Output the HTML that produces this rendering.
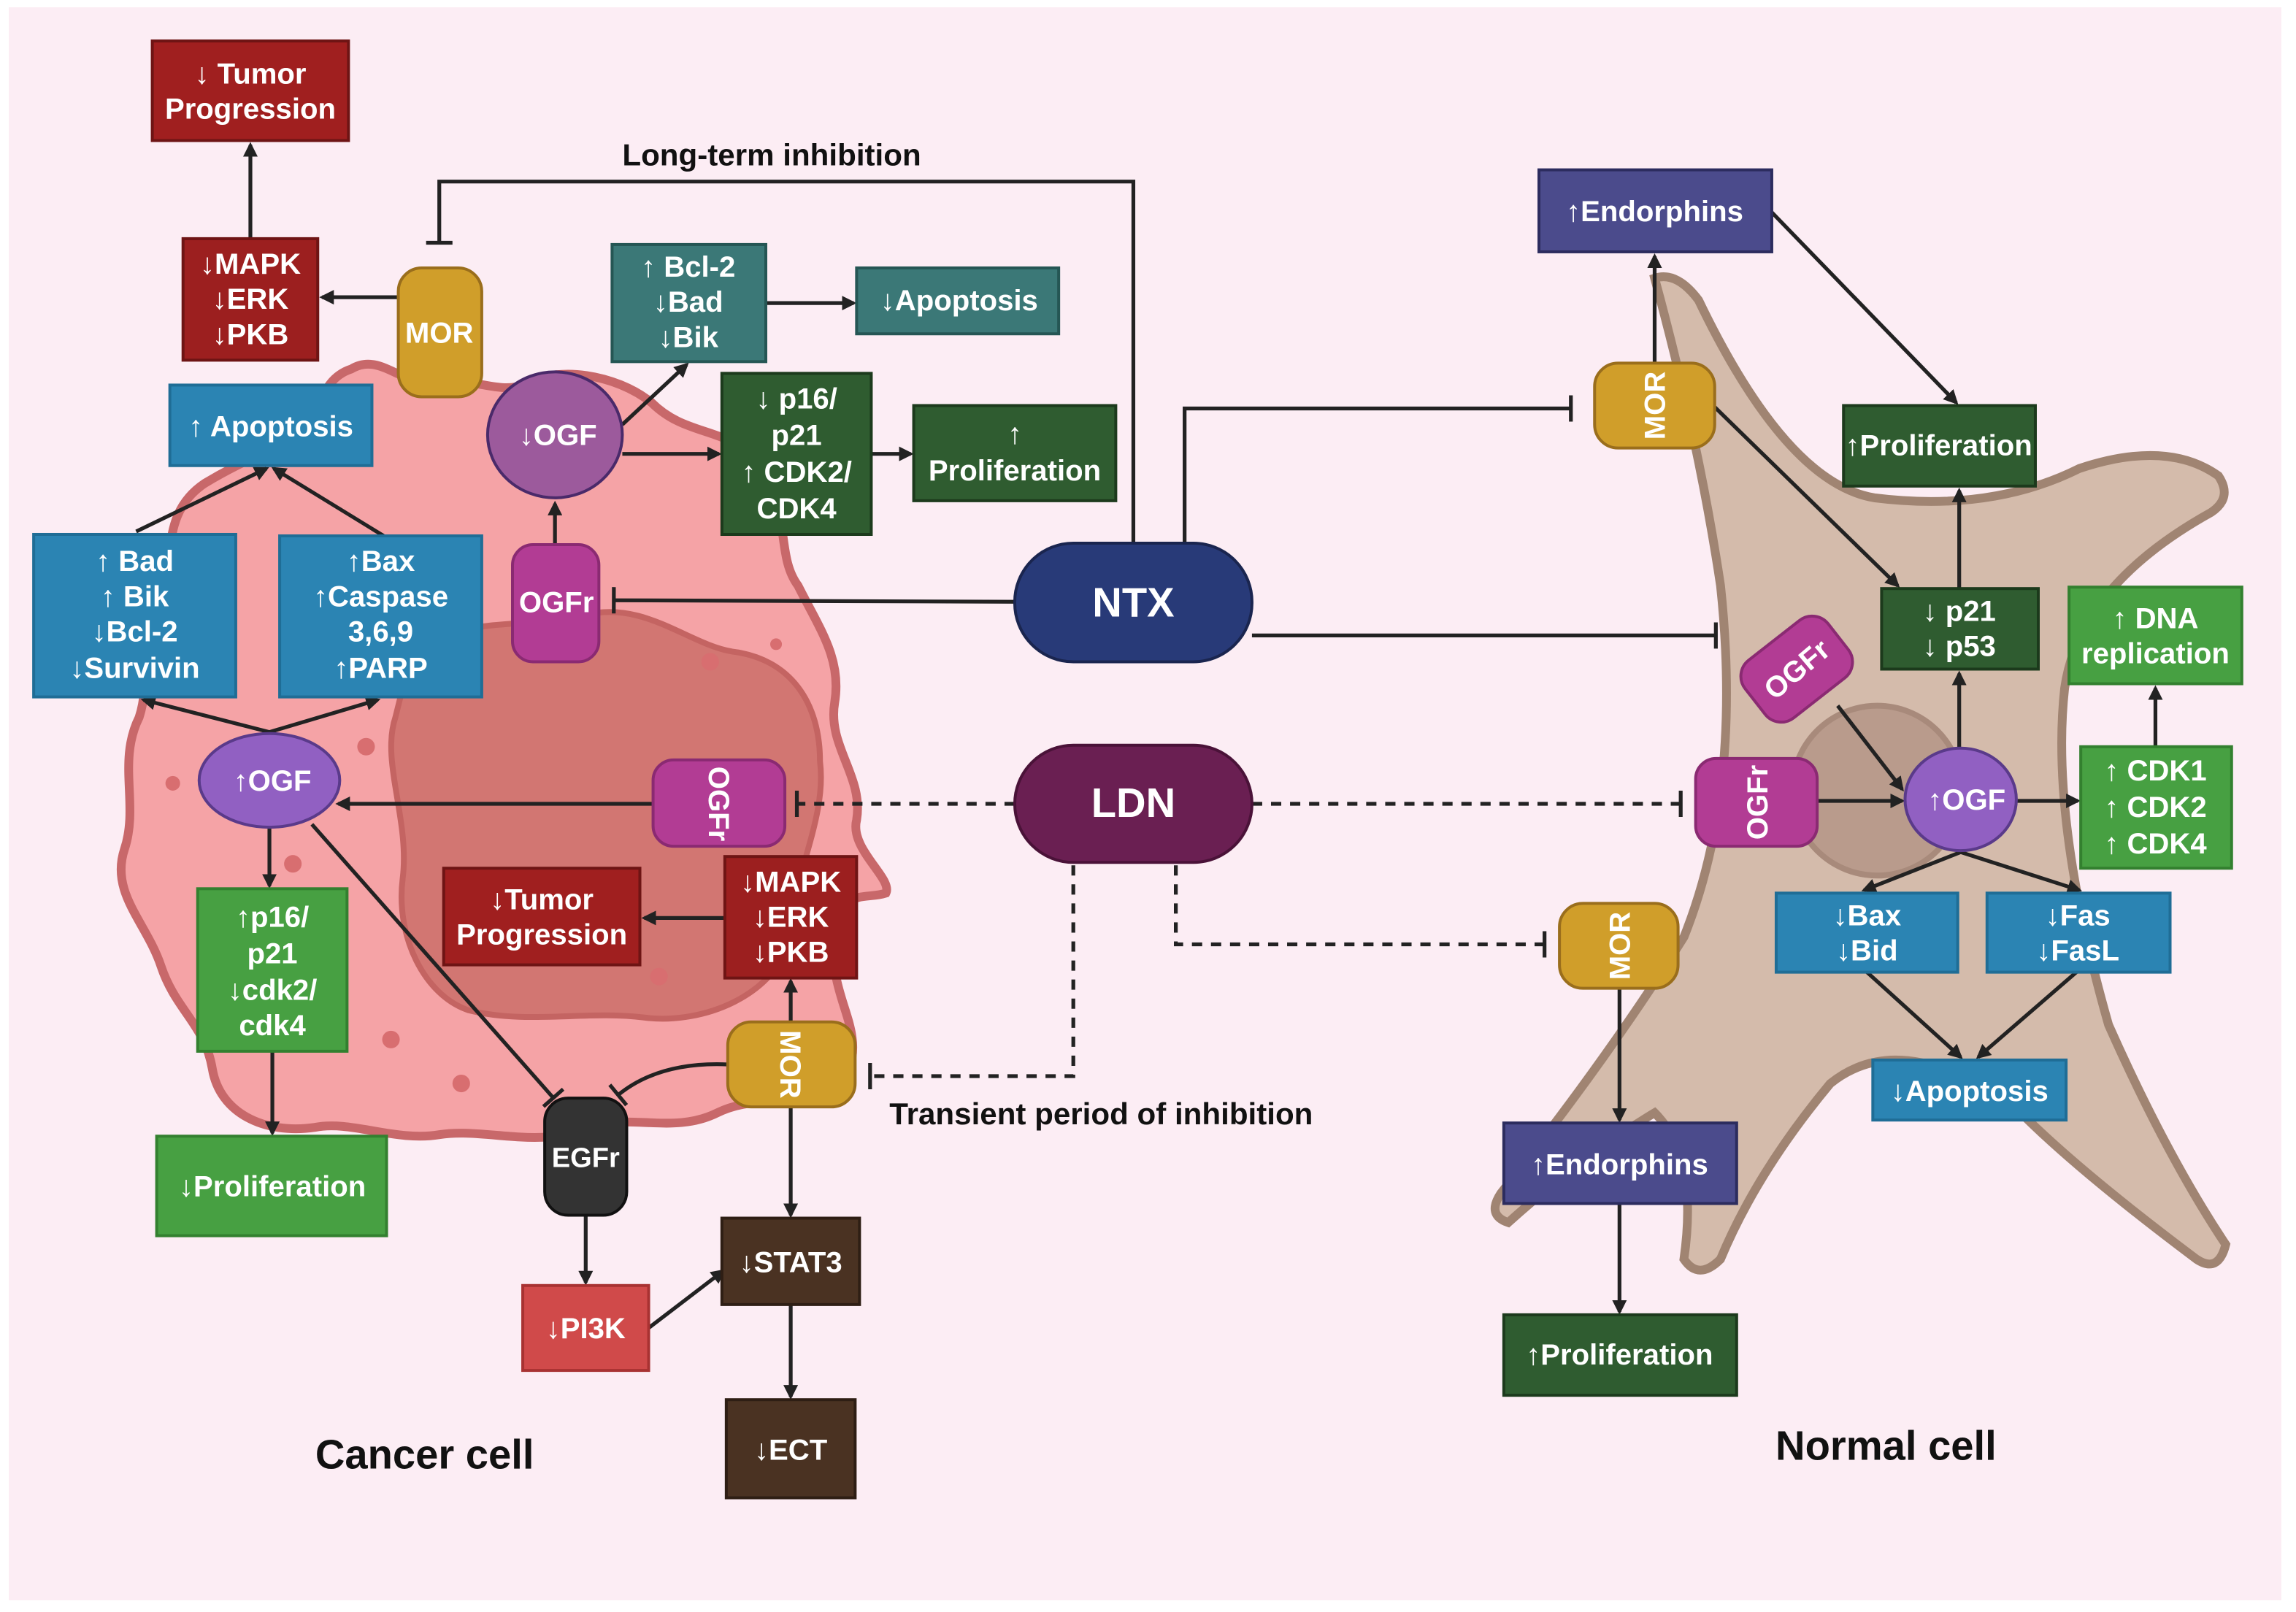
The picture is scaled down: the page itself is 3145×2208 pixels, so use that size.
<!DOCTYPE html>
<html><head><meta charset="utf-8"><style>
html,body{margin:0;padding:0;background:#fff;}
svg{display:block;}
text{font-family:"Liberation Sans",sans-serif;font-weight:bold;}
.w{fill:#fff;font-size:20px;text-anchor:middle;}
.k{fill:#111;}
.ln{stroke:#222;stroke-width:2.6;fill:none;}
.ds{stroke:#222;stroke-width:2.6;fill:none;stroke-dasharray:7 6;}
</style></head><body>
<svg width="3145" height="2208" viewBox="0 0 1568 1101" preserveAspectRatio="none" xmlns="http://www.w3.org/2000/svg">
<defs>
<marker id="a" markerWidth="10" markerHeight="10" refX="8" refY="5" orient="auto" markerUnits="userSpaceOnUse"><path d="M0,0 L10,5 L0,10 Z" fill="#222"/></marker>
<marker id="t" markerWidth="4" markerHeight="18" refX="2" refY="9" orient="auto" markerUnits="userSpaceOnUse"><rect x="0.5" y="0" width="2.6" height="18" fill="#222"/></marker>
</defs>
<rect x="0" y="0" width="1568" height="1101" fill="#ffffff"/>
<rect x="6" y="5" width="1552" height="1088" fill="#fcedf4"/>

<!-- cancer cell -->
<path d="M240,252 C260,240 275,265 300,262 C330,258 340,270 360,262 C380,250 420,255 445,275 C470,300 500,290 520,320 C540,350 530,380 545,400 C560,430 575,450 570,480 C565,510 590,530 585,560 C580,580 610,600 605,610 C590,615 575,605 570,640 C565,680 590,700 580,730 C560,760 520,745 490,760 C460,775 430,760 400,770 C370,785 330,770 300,775 C270,780 240,765 215,770 C180,775 150,760 145,730 C140,700 120,690 110,660 C100,630 75,610 85,580 C95,550 80,520 95,490 C105,460 90,430 110,400 C120,380 110,350 140,330 C165,315 180,310 200,300 C220,290 215,260 240,252 Z" fill="#f5a3a6" stroke="#c8686a" stroke-width="6"/>
<path d="M280,450 C300,420 360,430 400,420 C440,410 470,440 500,445 C540,450 560,480 560,520 C565,560 540,600 540,640 C530,680 480,700 440,695 C400,690 360,700 320,690 C290,680 270,640 275,600 C280,560 260,520 270,490 Z" fill="#d27672" stroke="#c46462" stroke-width="4"/>
<g fill="#d86e70"><circle cx="485" cy="452" r="6"/><circle cx="250" cy="510" r="6"/><circle cx="200" cy="590" r="6"/><circle cx="118" cy="535" r="5"/><circle cx="267" cy="710" r="6"/><circle cx="315" cy="740" r="6"/><circle cx="450" cy="667" r="6"/><circle cx="530" cy="440" r="4"/></g>

<!-- normal cell -->
<path d="M1130,190 Q1145,185 1160,205 Q1220,330 1280,340 Q1360,350 1420,320 Q1480,300 1515,325 Q1525,340 1510,350 Q1420,400 1410,470 Q1400,560 1440,700 Q1480,790 1520,850 Q1515,870 1500,860 Q1420,800 1380,760 Q1300,700 1250,740 Q1200,800 1175,860 Q1160,875 1150,860 Q1160,790 1130,760 Q1080,790 1030,835 Q1015,830 1025,815 Q1100,720 1150,640 Q1190,540 1175,400 Q1160,300 1130,190 Z" fill="#d4bbab" stroke="#a08472" stroke-width="6"/>
<circle cx="1282" cy="540" r="58" fill="#b99b8c" stroke="#a88a7b" stroke-width="4"/>

<!-- connectors -->
<g class="ln">
<line x1="171" y1="163" x2="171" y2="99" marker-end="url(#a)"/>
<line x1="272" y1="203" x2="220" y2="203" marker-end="url(#a)"/>
<polyline points="774,371 774,124 300,124 300,166" marker-end="url(#t)"/>
<line x1="425" y1="290" x2="469" y2="249" marker-end="url(#a)"/>
<line x1="425" y1="310" x2="491" y2="310" marker-end="url(#a)"/>
<line x1="523" y1="207" x2="583" y2="207" marker-end="url(#a)"/>
<line x1="595" y1="310" x2="622" y2="310" marker-end="url(#a)"/>
<line x1="379" y1="372" x2="379" y2="344" marker-end="url(#a)"/>
<line x1="693" y1="411" x2="419" y2="410" marker-end="url(#t)"/>
<polyline points="809,371 809,279 1073,279" marker-end="url(#t)"/>
<line x1="855" y1="434" x2="1172" y2="434" marker-end="url(#t)"/>
<line x1="93" y1="363" x2="182" y2="320" marker-end="url(#a)"/>
<line x1="262" y1="366" x2="187" y2="320" marker-end="url(#a)"/>
<line x1="184" y1="500" x2="98" y2="478" marker-end="url(#a)"/>
<line x1="184" y1="500" x2="258" y2="478" marker-end="url(#a)"/>
<line x1="446" y1="549" x2="231" y2="549" marker-end="url(#a)"/>
<line x1="184" y1="565" x2="184" y2="605" marker-end="url(#a)"/>
<line x1="186" y1="718" x2="186" y2="774" marker-end="url(#a)"/>
<line x1="213" y1="563" x2="378" y2="750" marker-end="url(#t)"/>
<path d="M497,727 Q450,725 422,748" marker-end="url(#t)"/>
<line x1="495" y1="627" x2="440" y2="627" marker-end="url(#a)"/>
<line x1="540" y1="698" x2="540" y2="670" marker-end="url(#a)"/>
<line x1="540" y1="756" x2="540" y2="830" marker-end="url(#a)"/>
<line x1="400" y1="830" x2="400" y2="876" marker-end="url(#a)"/>
<line x1="443" y1="907" x2="494" y2="868" marker-end="url(#a)"/>
<line x1="540" y1="891" x2="540" y2="954" marker-end="url(#a)"/>
<line x1="1130" y1="248" x2="1130" y2="175" marker-end="url(#a)"/>
<line x1="1210" y1="145" x2="1336" y2="275" marker-end="url(#a)"/>
<line x1="1171" y1="278" x2="1296" y2="400" marker-end="url(#a)"/>
<line x1="1338" y1="402" x2="1338" y2="335" marker-end="url(#a)"/>
<line x1="1338" y1="511" x2="1338" y2="460" marker-end="url(#a)"/>
<line x1="1255" y1="482" x2="1299" y2="539" marker-end="url(#a)"/>
<line x1="1241" y1="547" x2="1299" y2="547" marker-end="url(#a)"/>
<line x1="1377" y1="547" x2="1419" y2="547" marker-end="url(#a)"/>
<line x1="1472" y1="510" x2="1472" y2="470" marker-end="url(#a)"/>
<line x1="1339" y1="582" x2="1273" y2="608" marker-end="url(#a)"/>
<line x1="1339" y1="582" x2="1420" y2="608" marker-end="url(#a)"/>
<line x1="1275" y1="664" x2="1339" y2="722" marker-end="url(#a)"/>
<line x1="1418" y1="664" x2="1351" y2="722" marker-end="url(#a)"/>
<line x1="1106" y1="675" x2="1106" y2="765" marker-end="url(#a)"/>
<line x1="1106" y1="822" x2="1106" y2="896" marker-end="url(#a)"/>
</g>
<g class="ds">
<line x1="693" y1="549" x2="544" y2="549" marker-end="url(#t)"/>
<line x1="855" y1="549" x2="1148" y2="549" marker-end="url(#t)"/>
<polyline points="803,591 803,645 1055,645" marker-end="url(#t)"/>
<polyline points="733,591 733,735 594,735" marker-end="url(#t)"/>
</g>

<!-- boxes left -->
<g stroke-width="2">
<rect x="104" y="28" width="134" height="68" fill="#a01f1f" stroke="#6e1414"/>
<rect x="125" y="163" width="92" height="83" fill="#9c1f1f" stroke="#6e1414"/>
<rect x="272" y="183" width="57" height="88" rx="16" fill="#d09e2a" stroke="#9a6e1c"/>
<rect x="116" y="263" width="138" height="55" fill="#2b84b3" stroke="#1f6d96"/>
<rect x="23" y="365" width="138" height="111" fill="#2b84b3" stroke="#1f6d96"/>
<rect x="191" y="366" width="138" height="110" fill="#2b84b3" stroke="#1f6d96"/>
<ellipse cx="379" cy="297" rx="46" ry="43" fill="#9c5a9c" stroke="#4a2a6a"/>
<rect x="350" y="372" width="59" height="80" rx="14" fill="#b23c94" stroke="#8a2a72"/>
<rect x="418" y="167" width="105" height="80" fill="#3b7877" stroke="#255654"/>
<rect x="585" y="183" width="138" height="45" fill="#3b7877" stroke="#255654"/>
<rect x="493" y="255" width="102" height="110" fill="#2f5c30" stroke="#1c3a1c"/>
<rect x="624" y="277" width="138" height="65" fill="#2f5c30" stroke="#1c3a1c"/>
<rect x="693" y="371" width="162" height="81" rx="40" fill="#283a78" stroke="#1a254f"/>
<rect x="693" y="509" width="162" height="80" rx="40" fill="#6a1f52" stroke="#4a1238"/>
<ellipse cx="184" cy="533" rx="48" ry="32" fill="#9160c2" stroke="#5a3a8a"/>
<rect x="446" y="519" width="90" height="59" rx="14" fill="#b23c94" stroke="#8a2a72"/>
<rect x="303" y="593" width="134" height="66" fill="#a01f1f" stroke="#6e1414"/>
<rect x="495" y="585" width="90" height="83" fill="#9c1f1f" stroke="#6e1414"/>
<rect x="135" y="607" width="102" height="111" fill="#47a042" stroke="#33802f"/>
<rect x="107" y="776" width="157" height="68" fill="#47a042" stroke="#33802f"/>
<rect x="497" y="698" width="87" height="58" rx="16" fill="#d09e2a" stroke="#9a6e1c"/>
<rect x="372" y="750" width="56" height="80" rx="16" fill="#333" stroke="#111"/>
<rect x="493" y="832" width="94" height="59" fill="#4a3222" stroke="#2e1e14"/>
<rect x="357" y="878" width="86" height="58" fill="#d04a4a" stroke="#a83232"/>
<rect x="496" y="956" width="88" height="67" fill="#4a3222" stroke="#2e1e14"/>
<!-- right -->
<rect x="1051" y="116" width="159" height="56" fill="#4b4b8c" stroke="#2c2c5e"/>
<rect x="1089" y="248" width="82" height="58" rx="16" fill="#d09e2a" stroke="#9a6e1c"/>
<rect x="1259" y="277" width="131" height="55" fill="#2f5c30" stroke="#1c3a1c"/>
<rect x="1285" y="402" width="107" height="55" fill="#2f5c30" stroke="#1c3a1c"/>
<rect x="1413" y="401" width="118" height="66" fill="#47a042" stroke="#33802f"/>
<rect x="1191" y="432" width="72" height="50" rx="14" fill="#b23c94" stroke="#8a2a72" transform="rotate(-38 1227 457)"/>
<rect x="1158" y="518" width="83" height="60" rx="14" fill="#b23c94" stroke="#8a2a72"/>
<ellipse cx="1339" cy="546" rx="38" ry="35" fill="#9160c2" stroke="#5a3a8a"/>
<rect x="1421" y="510" width="103" height="83" fill="#47a042" stroke="#33802f"/>
<rect x="1213" y="610" width="124" height="54" fill="#2b84b3" stroke="#1f6d96"/>
<rect x="1357" y="610" width="125" height="54" fill="#2b84b3" stroke="#1f6d96"/>
<rect x="1279" y="724" width="132" height="41" fill="#2b84b3" stroke="#1f6d96"/>
<rect x="1065" y="617" width="81" height="58" rx="16" fill="#d09e2a" stroke="#9a6e1c"/>
<rect x="1027" y="767" width="159" height="55" fill="#4b4b8c" stroke="#2c2c5e"/>
<rect x="1027" y="898" width="159" height="55" fill="#2f5c30" stroke="#1c3a1c"/>
</g>

<!-- labels -->
<g class="w">
<text x="171" y="57">↓ Tumor</text><text x="171" y="81">Progression</text>
<text x="171" y="187">↓MAPK</text><text x="171" y="211">↓ERK</text><text x="171" y="235">↓PKB</text>
<text x="300" y="234">MOR</text>
<text x="185" y="298">↑ Apoptosis</text>
<text x="92" y="390">↑ Bad</text><text x="92" y="414">↑  Bik</text><text x="92" y="438">↓Bcl-2</text><text x="92" y="463">↓Survivin</text>
<text x="260" y="390">↑Bax</text><text x="260" y="414">↑Caspase</text><text x="260" y="438">3,6,9</text><text x="260" y="463">↑PARP</text>
<text x="381" y="304">↓OGF</text>
<text x="380" y="418">OGFr</text>
<text x="470" y="189">↑ Bcl-2</text><text x="470" y="213">↓Bad</text><text x="470" y="237">↓Bik</text>
<text x="655" y="212">↓Apoptosis</text>
<text x="544" y="279">↓ p16/</text><text x="544" y="304">p21</text><text x="544" y="329">↑ CDK2/</text><text x="544" y="354">CDK4</text>
<text x="693" y="303">↑</text><text x="693" y="328">Proliferation</text>
<text x="774" y="421" style="font-size:28px">NTX</text>
<text x="774" y="558" style="font-size:28px">LDN</text>
<text x="186" y="540">↑OGF</text>
<text transform="translate(491 549) rotate(90)" y="7">OGFr</text>
<text x="370" y="621">↓Tumor</text><text x="370" y="645">Progression</text>
<text x="540" y="609">↓MAPK</text><text x="540" y="633">↓ERK</text><text x="540" y="657">↓PKB</text>
<text x="186" y="633">↑p16/</text><text x="186" y="658">p21</text><text x="186" y="683">↓cdk2/</text><text x="186" y="707">cdk4</text>
<text x="186" y="817">↓Proliferation</text>
<text transform="translate(540 727) rotate(90)" y="7">MOR</text>
<text x="400" y="797" style="font-size:19px">EGFr</text>
<text x="540" y="869">↓STAT3</text>
<text x="400" y="914">↓PI3K</text>
<text x="540" y="997">↓ECT</text>
<text x="1130" y="151">↑Endorphins</text>
<text transform="translate(1130 277) rotate(-90)" y="7">MOR</text>
<text x="1324" y="311">↑Proliferation</text>
<text x="1338" y="424">↓ p21</text><text x="1338" y="448">↓ p53</text>
<text x="1472" y="429">↑ DNA</text><text x="1472" y="453">replication</text>
<text transform="translate(1227 457) rotate(-40)" y="7">OGFr</text>
<text transform="translate(1200 548) rotate(-90)" y="7">OGFr</text>
<text x="1343" y="553">↑OGF</text>
<text x="1472" y="533">↑ CDK1</text><text x="1472" y="558">↑ CDK2</text><text x="1472" y="583">↑ CDK4</text>
<text x="1275" y="632">↓Bax</text><text x="1275" y="656">↓Bid</text>
<text x="1419" y="632">↓Fas</text><text x="1419" y="656">↓FasL</text>
<text x="1345" y="752">↓Apoptosis</text>
<text transform="translate(1106 646) rotate(-90)" y="7">MOR</text>
<text x="1106" y="802">↑Endorphins</text>
<text x="1106" y="932">↑Proliferation</text>
</g>
<g class="k">
<text x="527" y="113" text-anchor="middle" style="font-size:21px">Long-term inhibition</text>
<text x="752" y="768" text-anchor="middle" style="font-size:21px">Transient period of inhibition</text>
<text x="290" y="1003" text-anchor="middle" style="font-size:28px">Cancer cell</text>
<text x="1288" y="997" text-anchor="middle" style="font-size:28px">Normal cell</text>
</g>
</svg>
</body></html>
